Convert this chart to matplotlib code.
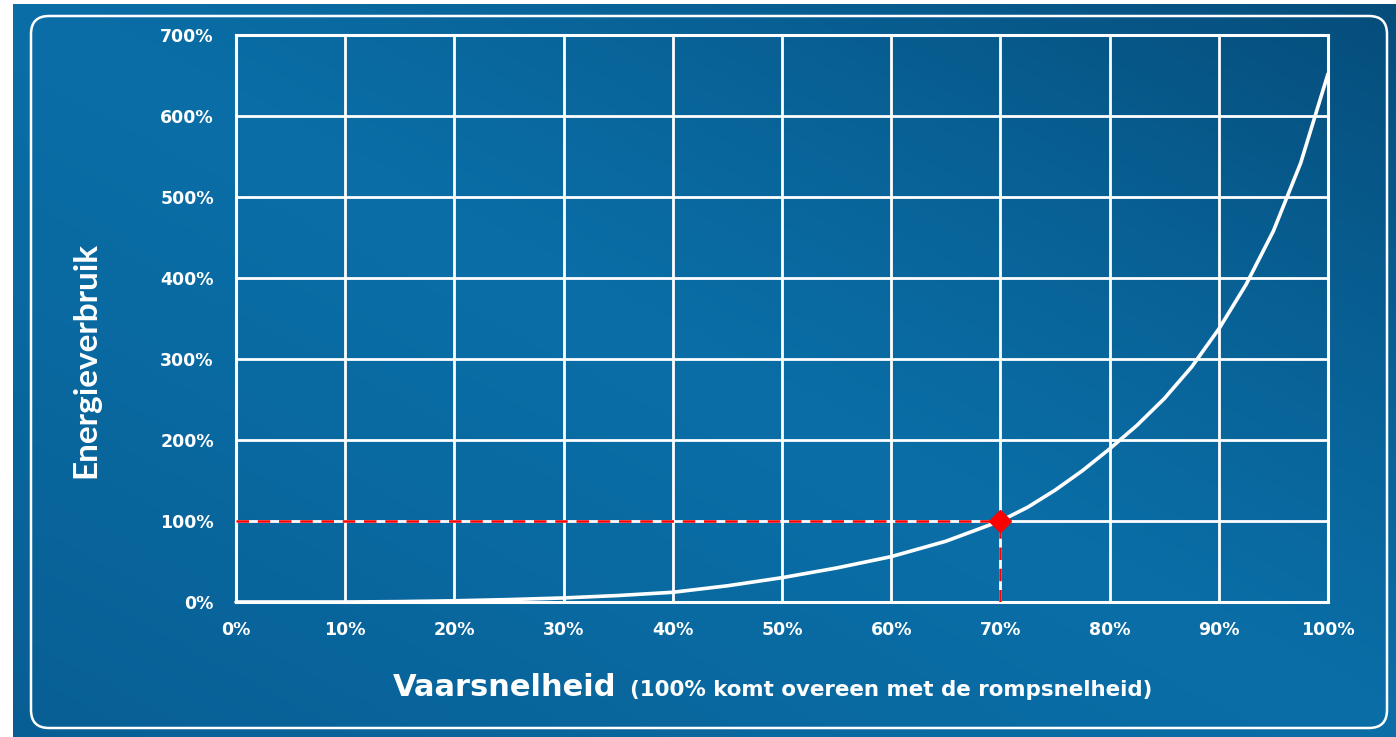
import numpy as np
import matplotlib
matplotlib.use('Agg')
import matplotlib.pyplot as plt
from matplotlib.patches import FancyBboxPatch

# Datos
velocidad = [0, 5, 10, 15, 20, 25, 30, 35, 40, 45, 50, 55, 60, 65, 70,
             72.5, 75, 77.5, 80, 82.5, 85, 87.5, 90, 92.5, 95, 97.5, 100]
energia = [0, 0, 0, 0.5, 1.5, 3, 5, 8, 12, 20, 30, 42, 56, 75, 100,
           117, 138, 162, 189, 218, 251, 290, 337, 392, 458, 542, 652]
xticks = [0, 10, 20, 30, 40, 50, 60, 70, 80, 90, 100]
yticks = [0, 100, 200, 300, 400, 500, 600, 700]
punto_x, punto_y = 70, 100

W, H = 1396, 737
fig = plt.figure(figsize=(W / 100, H / 100), dpi=100)
fig.patch.set_facecolor('white')

# Fondo con degradado azul
bg = fig.add_axes([0, 0, 1, 1])
bg.set_xlim(0, W)
bg.set_ylim(H, 0)
bg.axis('off')
gx, gy = np.meshgrid(np.linspace(0, 1, 300), np.linspace(0, 1, 160))
d = gx - gy
claro = np.array([0.04, 0.43, 0.65])
oscuro_tr = np.array([0.02, 0.30, 0.48])
oscuro_bl = np.array([0.03, 0.37, 0.58])
t1 = np.clip(d, 0, 1)[..., None] ** 1.3
t2 = np.clip(-d, 0, 1)[..., None] ** 1.3
img = claro * (1 - t1 - t2) + oscuro_tr * t1 + oscuro_bl * t2
bg.imshow(img, extent=[13, W, H, 4], aspect='auto', zorder=0)
marco = FancyBboxPatch((31, 16), 1356, 712, boxstyle='round,pad=0,rounding_size=18',
                       fill=False, edgecolor='white', linewidth=1.8, zorder=1)
bg.add_patch(marco)

# Grafica principal
ax = fig.add_axes([236 / W, 1 - 602 / H, (1328 - 236) / W, (602 - 35) / H])
ax.set_facecolor('none')
ax.set_xlim(0, 100)
ax.set_ylim(0, 700)
ax.set_xticks(xticks)
ax.set_yticks(yticks)
ax.set_xticklabels([f'{v}%' for v in xticks])
ax.set_yticklabels([f'{v}%' for v in yticks])
ax.tick_params(length=0, colors='white', labelsize=12.5)
for lab in ax.get_xticklabels() + ax.get_yticklabels():
    lab.set_fontweight('bold')
    lab.set_family('DejaVu Sans')
ax.tick_params(axis='x', pad=14)
ax.tick_params(axis='y', pad=16)
ax.grid(True, color='white', linewidth=2)
for s in ax.spines.values():
    s.set_color('white')
    s.set_linewidth(2.2)

ax.plot(velocidad, energia, color='white', linewidth=2.6, solid_capstyle='round',
        solid_joinstyle='round', zorder=3, clip_on=False)
ax.plot([0, punto_x], [punto_y, punto_y], color='red', linestyle=(0, (5, 3.5)),
        linewidth=1.8, zorder=4)
ax.plot([punto_x, punto_x], [0, punto_y], color='red', linestyle=(0, (5, 3.5)),
        linewidth=1.8, zorder=4)
ax.plot(punto_x, punto_y, marker='D', color='red', markersize=11, zorder=5)

# Etiquetas
fig.text(393 / W, 1 - 688 / H, 'Vaarsnelheid', color='white', fontsize=22,
         fontweight='bold', family='DejaVu Sans', va='center', ha='left')
fig.text(630 / W, 1 - 690 / H, '(100% komt overeen met de rompsnelheid)', color='white',
         fontsize=15.4, fontweight='bold', family='DejaVu Sans', va='center', ha='left')
fig.text(86 / W, 1 - 360 / H, 'Energieverbruik', color='white', fontsize=24,
         fontweight='bold', family='Lato', va='center', ha='center', rotation=90)

plt.savefig('out.png', dpi=100, facecolor=fig.get_facecolor())
